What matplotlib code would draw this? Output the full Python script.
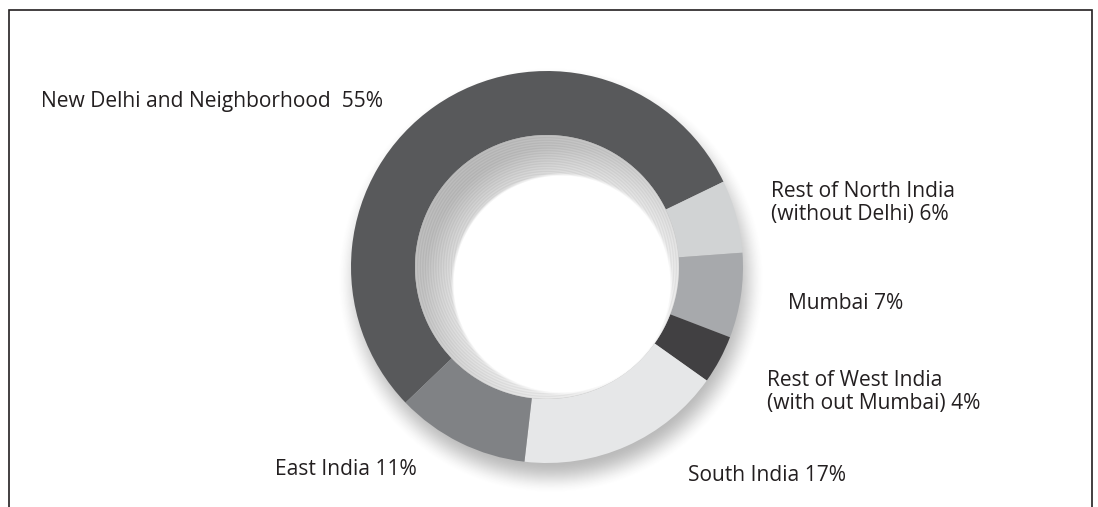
import numpy as np
import matplotlib.pyplot as plt

# slice data, clockwise from the big slice
labels = [
    ["New Delhi and Neighborhood  55%"],
    ["Rest of North India", "(without Delhi) 6%"],
    ["Mumbai 7%"],
    ["Rest of West India", "(with out Mumbai) 4%"],
    ["South India 17%"],
    ["East India 11%"],
]
shares = [55, 6, 7, 4, 17, 11]
colors = ["#58595b", "#d1d3d4", "#a7a9ac", "#414042", "#e6e7e8", "#808285"]

# label anchors in pixel coords (left x, first baseline y from top)
label_pos = [(41, 107), (771, 197), (788, 309), (767, 386), (688, 481), (275, 475)]

W, H = 1098, 507
cx, cy = 547, H - 267
r_out, r_in = 196, 132

fig = plt.figure(figsize=(W / 100, H / 100), dpi=100)
ax = fig.add_axes([0, 0, 1, 1])

# soft drop shadow under the ring
x0, x1, y0, y1 = 320, 790, 0, 480
X, Y = np.meshgrid(np.arange(x0, x1) + 0.5, np.arange(y0, y1) + 0.5)
dS = np.hypot(X - (cx + 4), Y - (cy - 13))
t = np.clip((dS - (r_out - 15)) / 33.0, 0, 1)
sh = 0.36 * (1 - (3 * t ** 2 - 2 * t ** 3))
shadow = np.zeros(X.shape + (4,))
shadow[..., :3] = 0.25
shadow[..., 3] = sh
ax.imshow(shadow, extent=(x0, x1, y0, y1), origin="lower", zorder=0,
          interpolation="bilinear")

ax.pie(shares, colors=colors, startangle=223.8, counterclock=False,
       radius=r_out, center=(cx, cy),
       wedgeprops=dict(width=r_out - r_in, linewidth=0))

# inner bevel: grey wall at the upper left, white hole shifted lower right
hx, hy, rh = 562, H - 284, 108
X, Y = np.meshgrid(np.arange(cx - r_in, cx + r_in) + 0.5,
                   np.arange(cy - r_in, cy + r_in) + 0.5)
dC = np.hypot(X - cx, Y - cy)
dH = np.hypot(X - hx, Y - hy)
u = ((X - cx) * -1 + (Y - cy)) / (np.sqrt(2) * np.maximum(dC, 1))
base = 0.79 - 0.07 * u
edge = np.clip((dH - rh) / 3.0, 0, 1)
fade = np.clip((dH - rh) / 30.0, 0, 1)
g = 1 - (1 - base) * edge * (0.55 + 0.45 * fade)
g = g + 0.02 * np.sin(2 * np.pi * dC / 2.6) * edge
g = np.clip(g, 0, 1)
inner = np.ones(X.shape + (4,))
inner[..., 0] = g
inner[..., 1] = g
inner[..., 2] = g
inner[..., 3] = np.clip(r_in - dC + 0.5, 0, 1)
ax.imshow(inner, extent=(cx - r_in, cx + r_in, cy - r_in, cy + r_in),
          origin="lower", zorder=2, interpolation="bilinear")

for lines, (lx, ly) in zip(labels, label_pos):
    for i, line in enumerate(lines):
        ax.text(lx, H - (ly + 23 * i), line, fontsize=15.1, family="Open Sans",
                color="#231f20", ha="left", va="baseline", zorder=3)

# open-bottomed frame
ax.plot([9, 9, 1092, 1092], [0, H - 10, H - 10, 0], color="#231f20",
        lw=1.2, solid_joinstyle="miter", zorder=3)

ax.set_xlim(0, W)
ax.set_ylim(0, H)
ax.set_aspect("auto")
ax.axis("off")

fig.savefig("out.png", dpi=100)
